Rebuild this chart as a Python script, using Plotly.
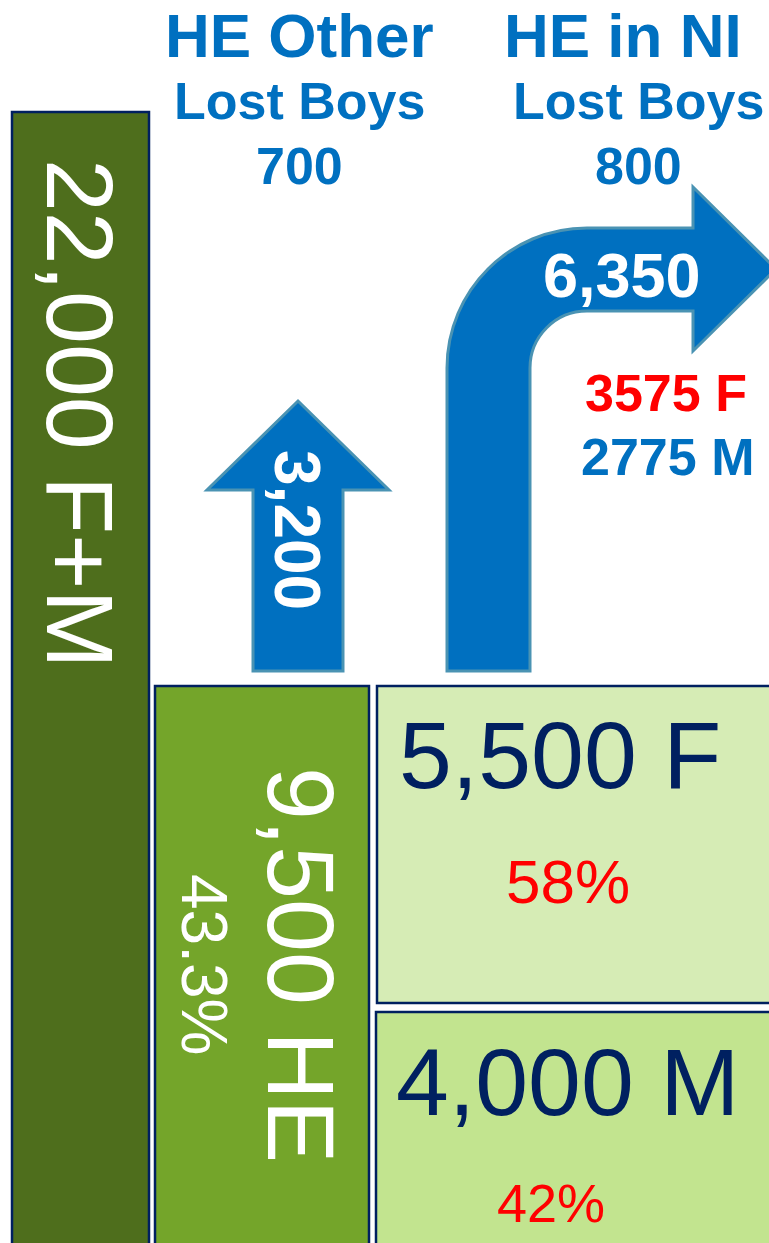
import plotly.graph_objects as go

# data
headers = ["HE Other", "HE in NI"]
lost_boys = [700, 800]
total_students = 22000
he_students = 9500
he_share = 43.3
flows = [3200, 6350]          # HE Other, HE in NI
ni_split = [3575, 2775]       # F, M within HE in NI
genders = ["F", "M"]
gender_counts = [5500, 4000]
gender_pct = [58, 42]

BLUE = "#0070C0"
NAVY = "#002060"
RED = "#FF0000"
EDGE = "#4A93B3"
FONT = "Liberation Sans, Arial, sans-serif"

W, H = 769, 1243

fig = go.Figure()

# boxes (pixel coords, y down)
boxes = [
    (12, 112, 149, 1260, "#4E6E1C"),
    (155, 686, 369, 1260, "#74A52A"),
    (377, 686, 790, 1003, "#D6ECB5"),
    (376, 1012, 790, 1260, "#C2E48F"),
]
for x0, y0, x1, y1, c in boxes:
    fig.add_shape(type="rect", x0=x0, y0=y0, x1=x1, y1=y1,
                  fillcolor=c, line=dict(color=NAVY, width=2.5), layer="below")

# straight up arrow
up = "M 253 671 L 253 490 L 207 490 L 298 401 L 389 490 L 343 490 L 343 671 Z"
fig.add_shape(type="path", path=up, fillcolor=BLUE, line=dict(color=EDGE, width=3))

# bent arrow (quarter-circle corners via cubic beziers)
k = 0.5523
ro, ri = 140, 57
cx, cy = 587, 368
bent = (
    f"M 447 671 L 447 {cy} "
    f"C 447 {cy - k*ro:.1f} {cx - k*ro:.1f} {cy - ro} {cx} {cy - ro} "
    f"L 693 {cy - ro} L 693 187 L 776 269 L 693 351 L 693 {cy - ri} "
    f"L {cx} {cy - ri} "
    f"C {cx - k*ri:.1f} {cy - ri} {cx - ri} {cy - k*ri:.1f} {cx - ri} {cy} "
    f"L {cx - ri} 671 Z"
)
fig.add_shape(type="path", path=bent, fillcolor=BLUE, line=dict(color=EDGE, width=3))


def label(x, y, text, size, color, angle=0, bold=False, yanchor="middle"):
    if bold:
        text = f"<b>{text}</b>"
    fig.add_annotation(x=x, y=y, text=text, showarrow=False, textangle=angle,
                       xanchor="center", yanchor=yanchor, borderpad=0,
                       font=dict(family=FONT, size=size, color=color))


# headings
for hx, lx, name, lb in zip([299, 623], [299, 638], headers, lost_boys):
    label(hx, 0, name, 62, BLUE, bold=True, yanchor="top")
    label(lx, 101, "Lost Boys", 52, BLUE, bold=True)
    label(lx, 166, f"{lb:,}", 52, BLUE, bold=True)

# vertical labels
label(80, 414, f"{total_students:,} F+M", 95, "white", angle=90)
label(301, 965, f"{he_students:,} HE", 95, "white", angle=90)
label(204, 964, f"{he_share}%", 64, "white", angle=90)
label(297, 530, f"{flows[0]:,}", 64, "white", angle=90, bold=True)

# bent arrow labels
label(622, 275, f"{flows[1]:,}", 63, "white", bold=True)
label(666, 393, f"{ni_split[0]} F", 52, RED, bold=True)
label(667, 457, f"{ni_split[1]} M", 52, BLUE, bold=True)

# gender boxes
label(560, 755, f"{gender_counts[0]:,} {genders[0]}", 95, NAVY)
label(568, 881, f"{gender_pct[0]}%", 62, RED)
label(567, 1082, f"{gender_counts[1]:,} {genders[1]}", 95, NAVY)
label(551, 1203, f"{gender_pct[1]}%", 54, RED)

fig.update_layout(
    width=W, height=H,
    margin=dict(l=0, r=0, t=0, b=0),
    paper_bgcolor="white", plot_bgcolor="white",
    xaxis=dict(range=[0, W], visible=False, fixedrange=True),
    yaxis=dict(range=[H, 0], visible=False, fixedrange=True),
    showlegend=False,
)

fig.write_html("out.html", config={"displayModeBar": False},
               post_script="document.body.style.margin='0';document.body.style.overflow='hidden';")
